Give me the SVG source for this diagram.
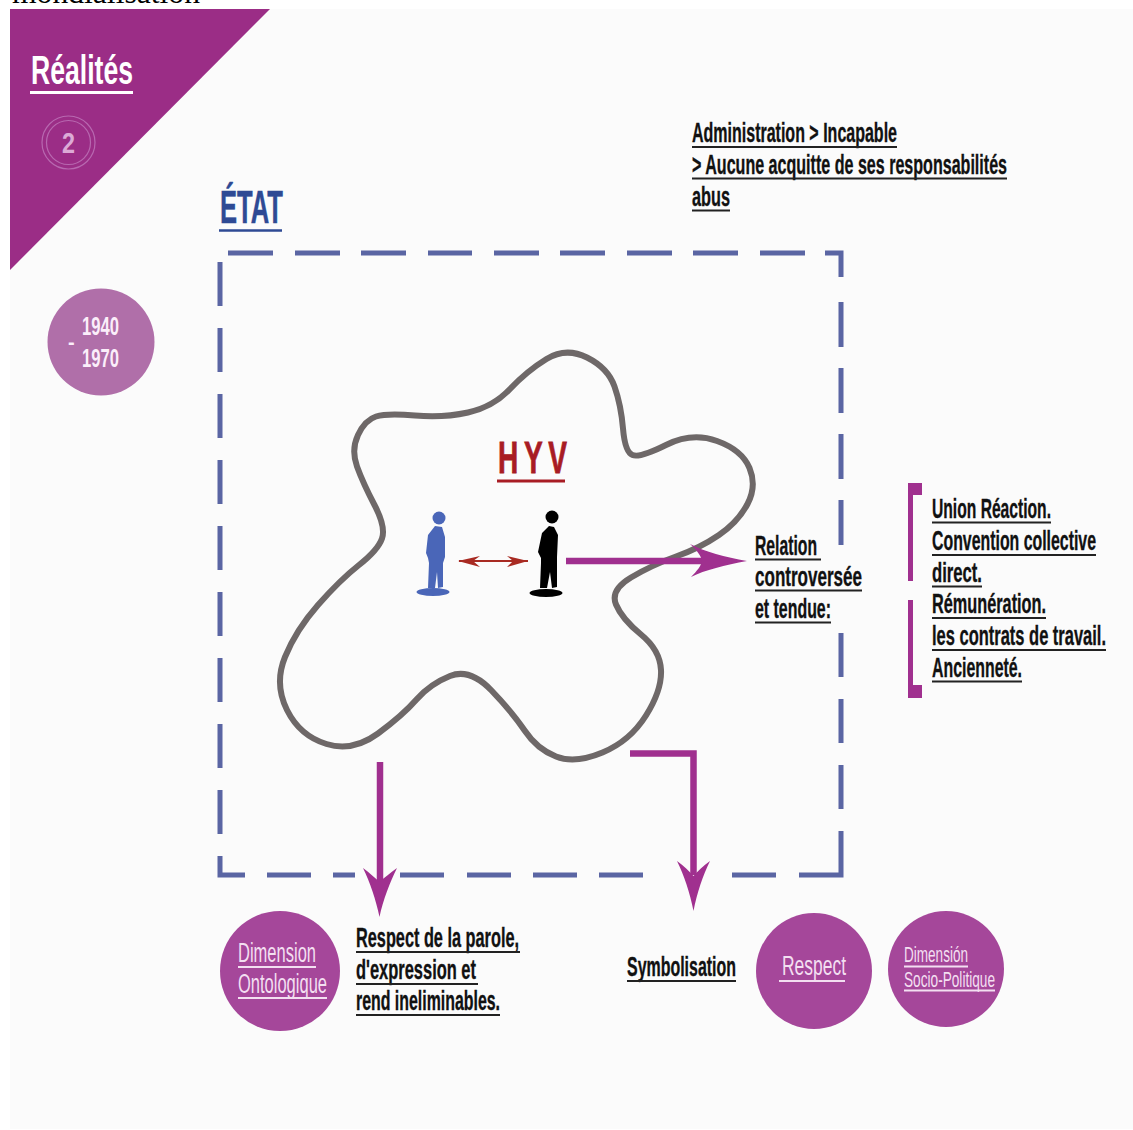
<svg xmlns="http://www.w3.org/2000/svg" width="1133" height="1130" viewBox="0 0 1133 1130">
<style>
text{font-family:"Liberation Sans Narrow","Liberation Sans",Arial,sans-serif}
.k{font-size:27px;font-weight:700;fill:#111;stroke:#111;stroke-width:.35}
.w{font-size:27px;fill:#f3dff1}
.ku{stroke:#222;stroke-width:2;fill:none}
.wu{stroke:#f3dff1;stroke-width:2;fill:none}
.dash{stroke:#5a65a3;stroke-width:5;fill:none}
.pur{stroke:#a0308f;fill:none}
.c{fill:#a5479a}
</style>
<rect width="1133" height="1130" fill="#fff"/>
<text x="12" y="3" textLength="188" lengthAdjust="spacingAndGlyphs" style="font-family:'Liberation Serif',serif;font-size:32px" fill="#000">mondialisation</text>
<rect x="10" y="9" width="1123" height="1120" fill="#fbfbfb"/>
<g id="banner">
<polygon points="10,9 270,9 10,270" fill="#9b2d86"/>
<text x="31" y="84" font-size="41" font-weight="700" fill="#fff" textLength="102" lengthAdjust="spacingAndGlyphs">Réalités</text>
<path d="M30 92.500H133" stroke="#fff" stroke-width="3"/>
<circle cx="68.500" cy="142.500" r="26.500" fill="none" stroke="#b868b0" stroke-width="1.200"/>
<circle cx="68.500" cy="142.500" r="22" fill="none" stroke="#b868b0" stroke-width="1.200"/>
<text x="68.500" y="153" font-size="29" font-weight="700" fill="#dcaad6" text-anchor="middle" textLength="13" lengthAdjust="spacingAndGlyphs">2</text>
</g>
<g id="period">
<circle cx="101" cy="342" r="53.500" fill="#b06fa9"/>
<text x="82" y="335" font-size="25" font-weight="700" fill="#fbeefa" textLength="37" lengthAdjust="spacingAndGlyphs">1940</text>
<text x="68" y="349" font-size="20" font-weight="700" fill="#fbeefa">-</text>
<text x="82" y="367" font-size="25" font-weight="700" fill="#fbeefa" textLength="37" lengthAdjust="spacingAndGlyphs">1970</text>
</g>
<g id="etat-label">
<text x="220" y="223" font-size="46" font-weight="700" fill="#2e4a94" stroke="#2e4a94" stroke-width=".5" textLength="63" lengthAdjust="spacingAndGlyphs">ÉTAT</text>
<path d="M219 230.500H282" stroke="#2e4a94" stroke-width="2.500"/>
</g>
<g id="etat-frame">
<path class="dash" d="M228 253H273M295 253H340M361 253H406M428 253H472M494 253H539M560 253H605M627 253H672M693 253H738M760 253H805M825 253H841V277M841 302V347M841 368V413M841 434V479M841 500V545M841 633V677M841 699V743M841 765V809M841 831V875H799M776 875H732M643 875H599M577 875H533M511 875H467M444 875H400M355 875H333M311 875H267M245 875H220V856M220 790V834M220 724V768M220 658V702M220 592V636M220 526V570M220 460V504M220 394V438M220 328V372M220 262V306"/>
</g>
<g id="hyv">
<path d="M546.500 359Q566 347 587 357.500Q608 368 614.500 386.500Q621 405 623 428.500Q625 452 632.500 455Q640 458 666 445Q692 432 717 441Q742 450 749.500 468Q757 486 747.500 504Q738 522 719 535Q700 548 676 556.500Q652 565 631 577.500Q610 590 616 604.500Q622 619 641 634.500Q660 650 661 670Q662 690 646 715.500Q630 741 602.500 752.500Q575 764 556 756.500Q537 749 525 731Q513 713 491.500 690.500Q470 668 450 676Q430 684 416.500 699.500Q403 715 378 733.500Q353 752 326.500 744Q300 736 287 710Q274 684 285 657Q296 630 318 605Q340 580 359 565Q378 550 382 538.500Q386 527 374.500 505Q363 483 357 466.500Q351 450 358 435Q365 420 376 416.500Q387 413 415 415.500Q443 418 468 412.500Q493 407 510 389Q527 371 546.500 359Z" fill="none" stroke="#6e6868" stroke-width="6"/>
<text x="498" y="473" font-size="45" font-weight="700" fill="#a81c24" stroke="#a81c24" stroke-width=".8" letter-spacing="9" textLength="74.600" lengthAdjust="spacingAndGlyphs">HYV</text>
<path d="M497 481H565" stroke="#a81c24" stroke-width="3"/>
</g>
<g id="person-blue" fill="#4a66b8">
<ellipse cx="433" cy="592" rx="16.500" ry="4"/>
<circle cx="439" cy="518" r="6.500"/>
<path d="M435 526L428 535L426 553L428 558L429 563L428 588L435 588L437 572L438 588L443 587L443 563L445 557L445 537L442 527Z"/>
</g>
<g id="person-black" fill="#000">
<ellipse cx="546" cy="593" rx="16.500" ry="4"/>
<circle cx="552" cy="517" r="6.500"/>
<path d="M549 526L542 533L538 552L541 558L541 563L540 588L547 588L550 572L552 588L557 587L557 563L557 557L558 535L554 527Z"/>
</g>
<g id="connectors">
<path d="M459 561H528" stroke="#a82a22" stroke-width="2"/>
<path d="M458 561L480 556L473 561L480 567ZM528 561L507 556L513 561L507 567Z" fill="#a82a22"/>
<path class="pur" stroke-width="6.500" d="M566 561H705"/>
<path d="M747 561C725 565 705 570 691 577C697 571 701 566 702 561C701 556 697 550 690 544C705 552 725 557 747 561Z" fill="#a0308f"/>
<path class="pur" stroke-width="6.500" d="M380 762V885"/>
<path d="M379.500 917C376 900 370 882 363 868C370 873 375 878 379.500 882C384 878 390 873 397 868C390 882 383 900 379.500 917Z" fill="#a0308f"/>
<path class="pur" stroke-width="6.500" d="M630 753.500H693.500V875"/>
<path d="M693.500 911C690 893 684 875 677 861C684 866 689 871 693.500 876C698 871 703 866 710 861C703 875 697 893 693.500 911Z" fill="#a0308f"/>
</g>
<g id="note-admin">
<text class="k" x="692" y="142" textLength="205" lengthAdjust="spacingAndGlyphs">Administration &gt; Incapable</text>
<path class="ku" d="M692 147H897"/>
<text class="k" x="692" y="174" textLength="315" lengthAdjust="spacingAndGlyphs">&gt; Aucune acquitte de ses responsabilités</text>
<path class="ku" d="M692 178.500H1007"/>
<text class="k" x="692" y="206" textLength="38" lengthAdjust="spacingAndGlyphs">abus</text>
<path class="ku" d="M692 210.500H730"/>
</g>
<g id="note-relation">
<text class="k" x="755" y="555" textLength="62" lengthAdjust="spacingAndGlyphs">Relation</text>
<path class="ku" d="M755 559.500H821"/>
<text class="k" x="755" y="586" textLength="107" lengthAdjust="spacingAndGlyphs">controversée</text>
<path class="ku" d="M755 590.500H862"/>
<text class="k" x="755" y="618" textLength="76" lengthAdjust="spacingAndGlyphs">et tendue:</text>
<path class="ku" d="M755 622.500H831"/>
</g>
<g id="note-union">
<path d="M908 483H922V495H913V581H908Z" fill="#a0308f"/>
<path d="M908 600H913V685H922V698H908Z" fill="#a0308f"/>
<text class="k" x="932" y="518" textLength="119" lengthAdjust="spacingAndGlyphs">Union Réaction.</text>
<path class="ku" d="M932 522.500H1051"/>
<text class="k" x="932" y="550" textLength="164" lengthAdjust="spacingAndGlyphs">Convention collective</text>
<path class="ku" d="M932 555H1096"/>
<text class="k" x="932" y="582" textLength="50" lengthAdjust="spacingAndGlyphs">direct.</text>
<path class="ku" d="M932 586.500H982"/>
<text class="k" x="932" y="613" textLength="114" lengthAdjust="spacingAndGlyphs">Rémunération.</text>
<path class="ku" d="M932 618H1046"/>
<text class="k" x="932" y="645" textLength="174" lengthAdjust="spacingAndGlyphs">les contrats de travail.</text>
<path class="ku" d="M932 650H1106"/>
<text class="k" x="932" y="677" textLength="90" lengthAdjust="spacingAndGlyphs">Ancienneté.</text>
<path class="ku" d="M932 681.500H1022"/>
</g>
<g id="dimension-ontologique">
<circle class="c" cx="280" cy="971" r="60"/>
<text class="w" x="238" y="962" textLength="78" lengthAdjust="spacingAndGlyphs">Dimension</text>
<path class="wu" d="M238 967H316"/>
<text class="w" x="238" y="993" textLength="89" lengthAdjust="spacingAndGlyphs">Ontologique</text>
<path class="wu" d="M238 998H327"/>
</g>
<g id="note-respect">
<text class="k" x="356" y="947" textLength="163" lengthAdjust="spacingAndGlyphs">Respect de la parole,</text>
<path class="ku" d="M356 952H520"/>
<text class="k" x="356" y="979" textLength="120" lengthAdjust="spacingAndGlyphs">d'expression et</text>
<path class="ku" d="M356 984H478"/>
<text class="k" x="356" y="1010" textLength="144" lengthAdjust="spacingAndGlyphs">rend ineliminables.</text>
<path class="ku" d="M356 1015H500"/>
</g>
<g id="symbolisation">
<text class="k" x="627" y="976" textLength="109" lengthAdjust="spacingAndGlyphs">Symbolisation</text>
<path class="ku" d="M627 981H736" stroke-width="2.500"/>
</g>
<g id="respect">
<circle class="c" cx="814" cy="971" r="58"/>
<text class="w" x="782" y="975" textLength="64" lengthAdjust="spacingAndGlyphs">Respect</text>
<path class="wu" d="M779 981H845"/>
</g>
<g id="dimension-socio">
<circle class="c" cx="946" cy="969" r="58"/>
<text class="w" x="904" y="962" style="font-size:22px" textLength="64" lengthAdjust="spacingAndGlyphs">Dimensión</text>
<path class="wu" d="M904 966.500H968" stroke-width="1.500"/>
<text class="w" x="904" y="987" style="font-size:22px" textLength="91" lengthAdjust="spacingAndGlyphs">Socio-Politique</text>
<path class="wu" d="M904 990.500H995" stroke-width="1.500"/>
</g>
</svg>
